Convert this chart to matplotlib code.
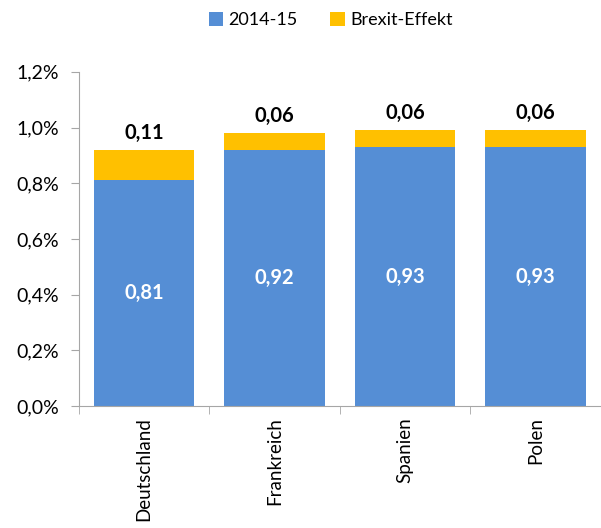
import numpy as np
import matplotlib.pyplot as plt

countries = ["Deutschland", "Frankreich", "Spanien", "Polen"]
base = [0.81, 0.92, 0.93, 0.93]
brexit = [0.11, 0.06, 0.06, 0.06]
yticks = [0.0, 0.2, 0.4, 0.6, 0.8, 1.0, 1.2]

blue = "#558ED5"
gold = "#FFC000"
grey = "#A6A6A6"

plt.rcParams["font.family"] = ["Lato", "DejaVu Sans"]

fig = plt.figure(figsize=(6.01, 5.28), dpi=100)
ax = fig.add_axes([0.131, 0.231, 0.869, 0.633])

x = np.arange(len(countries))
b1 = ax.bar(x, base, width=0.77, color=blue, label="2014-15")
b2 = ax.bar(x, brexit, width=0.77, bottom=base, color=gold, label="Brexit-Effekt")

for xi, v, e in zip(x, base, brexit):
    ax.text(xi, v / 2, f"{v:.2f}".replace(".", ","), ha="center", va="center",
            color="white", fontsize=14.5, fontweight="bold")
    ax.text(xi, v + e + 0.025, f"{e:.2f}".replace(".", ","), ha="center", va="bottom",
            color="black", fontsize=14.5, fontweight="bold")

ax.set_xlim(-0.5, len(countries) - 0.5)
ax.set_ylim(0, 1.2)
ax.set_yticks(yticks)
ax.set_yticklabels([f"{t:.1f}%".replace(".", ",") for t in yticks], fontsize=14)

# category labels centred, ticks at the category borders
ax.set_xticks(x)
ax.set_xticklabels(countries, rotation=90, fontsize=13.5)
ax.tick_params(axis="x", length=0, pad=8)
ax.set_xticks(np.arange(len(countries) + 1) - 0.5, minor=True)
ax.tick_params(axis="x", which="minor", length=6, color=grey)
ax.tick_params(axis="y", length=6, color=grey, pad=8)

for side in ["top", "right"]:
    ax.spines[side].set_visible(False)
for side in ["left", "bottom"]:
    ax.spines[side].set_color(grey)

fig.legend(handles=[b1, b2], loc="upper center", bbox_to_anchor=(0.55, 1.008),
           ncol=2, frameon=False, fontsize=13, handlelength=0.8, handleheight=0.8,
           handletextpad=0.3, columnspacing=1.8)

fig.savefig("out.png", dpi=100)
